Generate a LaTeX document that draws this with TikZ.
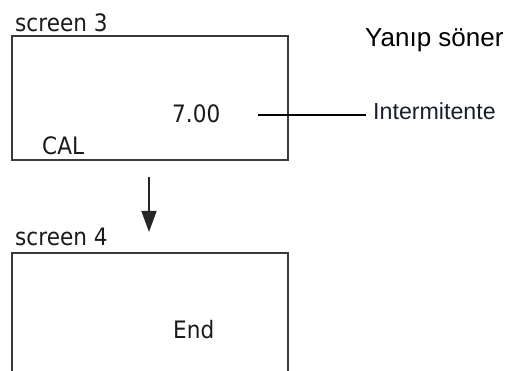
\documentclass[tikz,border=0pt]{standalone}
\usepackage{fontspec}
\setmainfont{Liberation Sans}
\newfontfamily\scrfont[FakeStretch=0.9]{DejaVu Sans}
\usetikzlibrary{arrows.meta}
\definecolor{boxgray}{HTML}{3A3A3A}
\definecolor{txtgray}{HTML}{1A1A1A}
\tikzset{
  screenline/.style={draw=boxgray, line width=1.5pt},
  screentop/.style={draw=boxgray, line width=2.2pt},
  lcdtext/.style={font=\scrfont\fontsize{24}{26}\selectfont, text=txtgray, inner sep=0pt, anchor=base west},
  note/.style={font=\fontsize{22}{24}\selectfont, text=black, inner sep=0pt, anchor=base west},
  leader/.style={draw=black, line width=1.2pt},
  flowarrow/.style={draw=black!85, line width=1.6pt, -{Triangle[length=21pt,width=15pt]}}
}
\begin{document}
\begin{tikzpicture}[x=1pt,y=-1pt]
\useasboundingbox[fill=white] (0,0) rectangle (509,371);
% screen 3
\coordinate (s3tl) at (12,36);
\coordinate (s3br) at (288,160);
\draw[screenline] (s3tl) rectangle (s3br);
\draw[screentop] (12,36) -- (288,36);
\draw[screentop] (12,160) -- (288,160);
\node[lcdtext] (lab3) at (15,31.5) {screen 3};
\node[lcdtext] (val) at (172,122.5) {7.00};
\node[lcdtext] (cal) at (42,155) {CAL};
% notes
\node[note, font=\fontsize{26}{28}\selectfont] (yanip) at (365,47) {Yanıp söner};
\node[note, font=\fontsize{23.2}{24}\selectfont, text={rgb,255:red,25;green,30;blue,45}] (inter) at (373,119.5) {Intermitente};
\coordinate (lstart) at (258,115);
\coordinate (lend) at (366,115);
\draw[leader] (lstart) -- (lend);
% arrow
\coordinate (astart) at (149,177);
\coordinate (aend) at (149,232);
\draw[flowarrow] (astart) -- (aend);
% screen 4
\node[lcdtext] (lab4) at (15,245.5) {screen 4};
\draw[screenline] (12,371) -- (12,253) -- (288,253) -- (288,371);
\draw[screentop] (12,253) -- (288,253);
\node[lcdtext] (endtxt) at (173,339) {End};
\end{tikzpicture}
\end{document}
